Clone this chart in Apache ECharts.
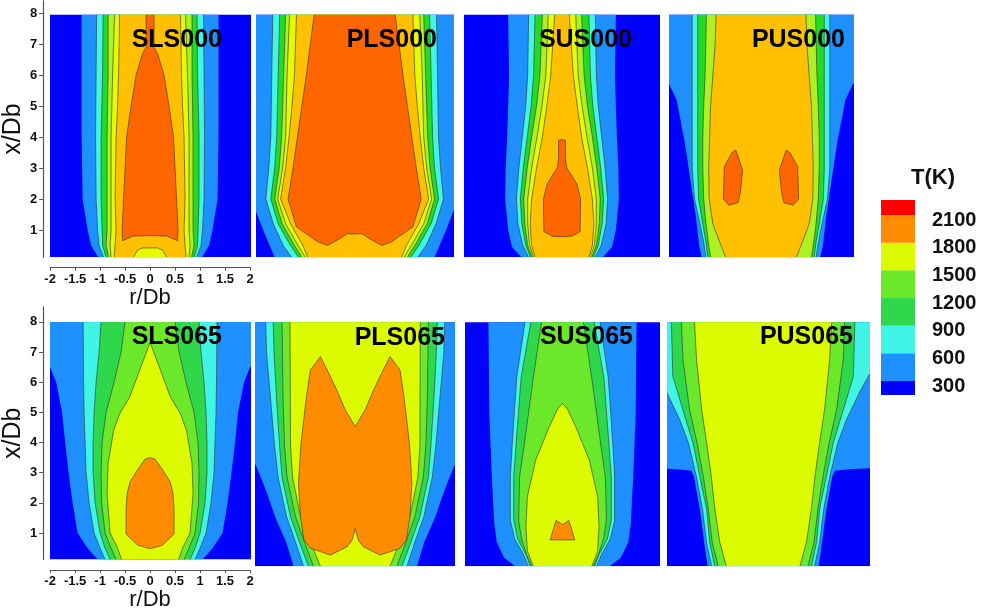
<!DOCTYPE html>
<html><head><meta charset="utf-8">
<script src="https://cdn.jsdelivr.net/npm/echarts@6/dist/echarts.min.js"></script>
<style>html,body{margin:0;padding:0;background:#fff}#c{width:987px;height:612px}</style>
</head><body><div id="c"></div>
<script>
// ---------- data ----------
const levels = [300, 600, 900, 1200, 1500, 1800, 2100];
const yTicks = [1, 2, 3, 4, 5, 6, 7, 8];
const panelNames = ['SLS000', 'PLS000', 'SUS000', 'PUS000', 'SLS065', 'PLS065', 'SUS065', 'PUS065'];
const xBottom = 0.12;
const xTopRow = [7.95, 8];

// rings: [T level, right-half outline [r/Db, x/Db] from bottom to top, kind]
const SLS000 = [
  [300, [[1.04,0.12],[1.18,0.5],[1.25,1],[1.35,2],[1.37,4],[1.37,7.95]]],
  [600, [[0.93,0.12],[1.02,0.5],[1.05,1],[1.08,2],[1.09,4],[1.08,6],[1.07,7.95]]],
  [900, [[0.88,0.12],[0.95,0.5],[0.96,1],[0.98,2],[0.98,4],[0.95,6],[0.94,7.95]]],
  [1200, [[0.83,0.12],[0.88,0.5],[0.86,1],[0.86,2],[0.86,4],[0.84,6],[0.84,7.95]]],
  [1500, [[0.78,0.12],[0.8,0.5],[0.78,1],[0.78,2],[0.78,4],[0.75,6],[0.71,7.95]]],
  [1650, [[0.72,0.12],[0.7,0.5],[0.68,1],[0.7,2],[0.69,3],[0.68,4],[0.65,5],[0.63,6],[0.61,7.95]]],
  [1800, [[0,0.82],[0.35,0.8],[0.55,0.65],[0.56,1],[0.53,2],[0.5,3],[0.47,4],[0.38,5],[0.28,6],[0.15,6.7],[0.08,6.9],[0.08,7.95]]],
  [1500, [[0.33,0.12],[0.25,0.35],[0.15,0.42],[0,0.42]]]
];
const PLS000 = [
  [300, [[1.62,0.12],[1.83,0.9],[2.0,1.6],[2.3,2.5],[2.3,7.95]]],
  [600, [[1.28,0.12],[1.45,0.5],[1.65,1.2],[1.8,2],[1.74,3],[1.7,4],[1.68,6],[1.66,7.95]]],
  [900, [[1.14,0.12],[1.3,0.5],[1.55,1.2],[1.7,2],[1.62,3],[1.58,4],[1.55,6],[1.52,7.95]]],
  [1200, [[1.07,0.12],[1.22,0.5],[1.47,1.2],[1.62,2],[1.53,3],[1.48,4],[1.44,6],[1.4,7.95]]],
  [1500, [[1.0,0.12],[1.15,0.5],[1.4,1.2],[1.56,2],[1.46,3],[1.4,4],[1.37,6],[1.32,7.95]]],
  [1650, [[0.95,0.12],[1.05,0.5],[1.3,1.2],[1.5,2],[1.4,3],[1.33,4],[1.27,5],[1.22,6],[1.18,7.95]]],
  [1800, [[0,0.87],[0.15,0.88],[0.3,0.72],[0.55,0.5],[0.75,0.62],[1.18,1.1],[1.35,2],[1.25,3],[1.16,4],[1.07,5],[0.98,6],[0.9,7],[0.82,7.95]]]
];
const SUS000 = [
  [300, [[0.83,0.12],[1.02,0.45],[1.1,1],[1.16,2],[1.15,3],[1.12,4],[1.1,5],[1.08,6],[1.1,7.95]]],
  [600, [[0.68,0.12],[0.8,0.5],[0.9,1.2],[0.93,2],[0.88,3],[0.81,4],[0.74,5],[0.7,6],[0.68,7.95]]],
  [900, [[0.64,0.12],[0.74,0.5],[0.82,1.2],[0.85,2],[0.79,3],[0.71,4],[0.63,5],[0.58,6],[0.55,7.95]]],
  [1200, [[0.61,0.12],[0.7,0.5],[0.76,1.2],[0.78,2],[0.71,3],[0.62,4],[0.52,5],[0.45,6],[0.4,7.95]]],
  [1500, [[0.58,0.12],[0.66,0.5],[0.7,1.2],[0.7,2],[0.62,3],[0.51,4],[0.41,5],[0.33,6],[0.28,7.95]]],
  [1650, [[0.55,0.12],[0.62,0.5],[0.65,1.2],[0.62,2],[0.52,3],[0.4,4],[0.31,5],[0.23,6],[0.15,7.95]]],
  [1800, [[0,0.78],[0.2,0.8],[0.37,0.95],[0.38,2],[0.3,2.5],[0.1,3],[0.07,3.3],[0.07,3.9],[0,3.92]]]
];
const PUS000 = [
  [300, [[1.29,0.12],[1.35,0.5],[1.42,1.43],[1.66,3.8],[1.84,5.2],[2.0,5.7],[2.3,6.2],[2.3,7.95]]],
  [600, [[1.2,0.12],[1.25,0.6],[1.33,1.2],[1.45,2],[1.5,3],[1.5,4],[1.5,5],[1.5,6],[1.5,7.95]]],
  [900, [[1.16,0.12],[1.2,0.6],[1.27,1.2],[1.36,2],[1.38,3],[1.38,4],[1.38,6],[1.38,7.95]]],
  [1200, [[1.1,0.12],[1.15,0.6],[1.2,1.2],[1.25,2],[1.27,3],[1.27,4],[1.25,5],[1.22,6],[1.19,7.95]]],
  [1650, [[0.77,0.12],[0.9,0.6],[1.05,1.2],[1.13,2],[1.14,3],[1.12,4],[1.1,5],[1.05,6],[1.0,7],[0.98,7.95]]],
  [1800, [[0.55,3.58],[0.63,3.5],[0.8,3.05],[0.82,2.0],[0.7,1.8],[0.5,1.88],[0.45,2.2],[0.4,2.94]], 'pair']
];
const SLS065 = [
  [300, [[1.05,0.12],[1.25,0.5],[1.45,1],[1.55,2],[1.63,3],[1.7,4],[1.76,5],[1.88,6],[2.0,6.5],[2.3,7],[2.3,8]]],
  [600, [[0.9,0.12],[1.0,0.5],[1.12,1],[1.22,2],[1.28,3],[1.3,4],[1.32,5],[1.33,6],[1.34,8]]],
  [900, [[0.8,0.12],[0.9,0.5],[1.0,1],[1.1,2],[1.14,3],[1.14,4],[1.12,5],[1.08,6],[1.02,7],[0.98,8]]],
  [1200, [[0.68,0.12],[0.78,0.5],[0.9,1],[0.97,2],[0.98,3],[0.96,4],[0.88,5],[0.72,6],[0.58,7],[0.5,8]]],
  [1500, [[0.57,0.12],[0.65,0.5],[0.8,1],[0.86,2.3],[0.84,3.3],[0.73,4.4],[0.61,4.95],[0.41,5.5],[0.17,6.57],[0,7.32]]],
  [1800, [[0,0.48],[0.25,0.6],[0.48,0.97],[0.48,1.8],[0.46,2.3],[0.4,2.7],[0.25,3.1],[0.1,3.45],[0,3.5]]]
];
const PLS065 = [
  [300, [[1.24,0.12],[1.38,0.86],[1.61,1.72],[1.75,2.37],[1.85,2.8],[2.0,3.4],[2.3,3.7],[2.3,8]]],
  [600, [[1.04,0.12],[1.2,0.9],[1.38,1.72],[1.55,3],[1.62,4],[1.7,5.5],[1.78,7],[1.8,8]]],
  [900, [[0.94,0.12],[1.12,0.9],[1.3,1.72],[1.47,3],[1.52,4],[1.58,5.5],[1.63,7],[1.65,8]]],
  [1200, [[0.84,0.12],[1.02,0.9],[1.2,1.72],[1.37,3],[1.42,4],[1.45,5.5],[1.47,8]]],
  [1500, [[0.7,0.12],[0.9,0.9],[1.1,1.72],[1.26,3],[1.3,4],[1.31,8]]],
  [1800, [[0,1.34],[0.06,0.97],[0.16,0.75],[0.5,0.48],[0.9,0.7],[1.03,0.97],[1.1,1.72],[1.14,2.8],[1.09,4.09],[0.98,5.6],[0.9,6.46],[0.7,6.89],[0.53,6.35],[0.37,5.81],[0.2,5.17],[0,4.63]]]
];
const SUS065 = [
  [300, [[0.97,0.12],[1.2,0.4],[1.35,0.9],[1.4,1.5],[1.45,3],[1.5,5],[1.52,8]]],
  [600, [[0.7,0.12],[0.8,0.5],[0.98,1.0],[1.07,1.6],[1.07,3],[1.03,4.1],[0.94,6.2],[0.77,8]]],
  [900, [[0.66,0.12],[0.75,0.5],[0.92,1.0],[1.0,1.6],[1.0,3],[0.95,4.1],[0.85,6.2],[0.65,8]]],
  [1200, [[0.63,0.12],[0.74,0.5],[0.84,1.0],[0.9,1.6],[0.88,3],[0.78,4.1],[0.6,6.2],[0.43,8]]],
  [1500, [[0.6,0.12],[0.72,0.6],[0.75,1.4],[0.72,2.37],[0.63,3.0],[0.55,3.55],[0.41,4.09],[0.27,4.63],[0.1,5.2],[0,5.38]]],
  [1800, [[0,0.97],[0.25,0.97],[0.2,1.25],[0.13,1.6],[0,1.46]]]
];
const PUS065 = [
  [300, [[1.1,0.12],[1.15,0.65],[1.25,1.9],[1.37,3.0],[1.42,3.2],[1.7,3.25],[2.3,3.3],[2.3,8]]],
  [600, [[1.02,0.12],[1.12,0.86],[1.2,1.94],[1.32,3.0],[1.48,4.1],[1.65,4.84],[1.9,5.7],[2.1,6.3],[2.3,6.6],[2.3,8]]],
  [900, [[0.96,0.12],[1.06,0.9],[1.12,1.97],[1.26,3.05],[1.39,4.1],[1.59,5.17],[1.79,6.25],[1.82,8]]],
  [1200, [[0.89,0.12],[1.01,0.9],[1.09,2],[1.19,3.05],[1.31,4.1],[1.46,5.2],[1.59,6.8],[1.62,8]]],
  [1500, [[0.73,0.12],[0.86,0.9],[0.96,2],[1.03,3.05],[1.12,4.1],[1.22,5.2],[1.32,6.8],[1.36,8]]]
];
const panelRings = [SLS000, PLS000, SUS000, PUS000, SLS065, PLS065, SUS065, PUS065];
const rRange = [[-2,2],[-2,2],[-2,2],[-2,2],[-2,2],[-2,2],[-2,2],[-1.9,2.1]];

// ---------- styles ----------
const FONT = "'Liberation Sans', Arial, sans-serif";
const cmapRow = [
  {0:'#0000fe',300:'#1e90ff',600:'#40f5e6',900:'#22dc22',1200:'#aef022',1500:'#e6fa00',1650:'#ffc000',1800:'#ff6600'},
  {0:'#0000fe',300:'#1e90ff',600:'#40f5e6',900:'#2fd84a',1200:'#6ce82a',1500:'#dcfa00',1800:'#ff8c00'}
];
const legendColors = {300:'#0000fe',600:'#1e90ff',900:'#40f5e6',1200:'#2fd84a',1500:'#6ce82a',1800:'#dcfa00',2100:'#ff8c00',top:'#ff0000'};
// layout [left, width] per panel, rows [top, height, yMax]
const colPos = [[48.3,201.7],[256,197.3],[464,196],[669.3,183.4],[47.7,202.3],[255.7,199],[465,195],[667.3,201.7]];
const rowPos = [[0.9,256.3,8.4],[306.8,259.4,8.5]];
const titlePos = [[222,40],[437,40],[632,40],[845,40],[222,337],[445,338],[633,337],[853,337]];

const grid = [], xAxis = [], yAxis = [], series = [], graphic = [];
panelNames.forEach((name, i) => {
  const row = i < 4 ? 0 : 1, col = i % 4;
  const [left, width] = colPos[i];
  const [top, height, yMax] = rowPos[row];
  grid.push({left, width, top, height});
  const first = col === 0;
  xAxis.push({
    gridIndex: i, type: 'value', min: rRange[i][0], max: rRange[i][1], interval: 0.5,
    show: first, offset: 10.5, splitLine: {show: false},
    axisLine: {show: true, onZero: false, lineStyle: {color: '#555', width: 1.2}},
    axisTick: {show: true, length: 3, lineStyle: {color: '#555'}},
    axisLabel: {fontSize: 13, fontWeight: 'bold', color: '#111', margin: 5, fontFamily: FONT},
    name: 'r/Db', nameLocation: 'middle', nameGap: 16,
    nameTextStyle: {fontSize: 22, color: '#111', fontFamily: FONT}
  });
  yAxis.push({
    gridIndex: i, type: 'value', min: xBottom, max: yMax,
    show: first, offset: 7, splitLine: {show: false},
    axisLine: {show: true, onZero: false, lineStyle: {color: '#555', width: 1.2}},
    axisTick: {show: true, length: 4, customValues: yTicks, lineStyle: {color: '#555'}},
    axisLabel: {customValues: yTicks, fontSize: 13, fontWeight: 'bold', color: '#111', margin: 6, fontFamily: FONT},
    name: 'x/Db', nameLocation: 'middle', nameRotate: 90, nameGap: 13,
    nameTextStyle: {fontSize: 25, color: '#111', fontFamily: FONT}
  });
  const top8 = xTopRow[row];
  const rings = [[0, [[2.3, xBottom], [2.3, top8]]]].concat(panelRings[i]);
  const cmap = cmapRow[row];
  series.push({
    type: 'custom', xAxisIndex: i, yAxisIndex: i, clip: true, silent: true, animation: false,
    data: rings.map(() => [0, 1]),
    renderItem: function (params, api) {
      const [lv, pts, kind] = rings[params.dataIndex];
      const fill = cmap[lv];
      const R = pts.map(p => api.coord([p[0], p[1]]));
      const L = pts.map(p => api.coord([-p[0], p[1]]));
      const stroke = lv >= 600 ? '#303030' : null;
      const children = [];
      if (kind === 'pair') {
        children.push({type: 'polygon', shape: {points: R}, style: {fill, stroke, lineWidth: 0.6}});
        children.push({type: 'polygon', shape: {points: L}, style: {fill, stroke, lineWidth: 0.6}});
      } else {
        children.push({type: 'polygon', shape: {points: R.concat(L.slice().reverse())}, style: {fill}});
        if (stroke) {
          children.push({type: 'polyline', shape: {points: R}, style: {stroke, lineWidth: 0.6, fill: null}});
          children.push({type: 'polyline', shape: {points: L}, style: {stroke, lineWidth: 0.6, fill: null}});
        }
      }
      return {type: 'group', children};
    }
  });
  graphic.push({
    type: 'text', x: titlePos[i][0], y: titlePos[i][1], z: 100,
    style: {text: name, font: 'bold 25px ' + FONT, fill: '#000', align: 'right', verticalAlign: 'middle'}
  });
});

// colour bar legend
const lgX = 881, lgW = 34, lgTop = 215, lgStep = 27.67;
const yOf = lv => lgTop + (2100 - lv) / 300 * lgStep;
graphic.push({type: 'rect', shape: {x: lgX, y: 200, width: lgW, height: 15}, style: {fill: legendColors.top}});
levels.forEach((lv, k) => {
  const y0 = yOf(lv);
  const h = k === 0 ? 14 : lgStep;
  graphic.push({type: 'rect', shape: {x: lgX, y: y0, width: lgW, height: h}, style: {fill: legendColors[lv]}});
});
levels.forEach(lv => {
  graphic.push({type: 'text', x: 932, y: yOf(lv) + 5,
    style: {text: String(lv), font: 'bold 20px ' + FONT, fill: '#111', align: 'left', verticalAlign: 'middle'}});
});
graphic.push({type: 'text', x: 933, y: 178,
  style: {text: 'T(K)', font: 'bold 22px ' + FONT, fill: '#111', align: 'center', verticalAlign: 'middle'}});

const chart = echarts.init(document.getElementById('c'), null, {renderer: 'canvas'});
chart.setOption({animation: false, grid, xAxis, yAxis, series, graphic});
</script></body></html>
